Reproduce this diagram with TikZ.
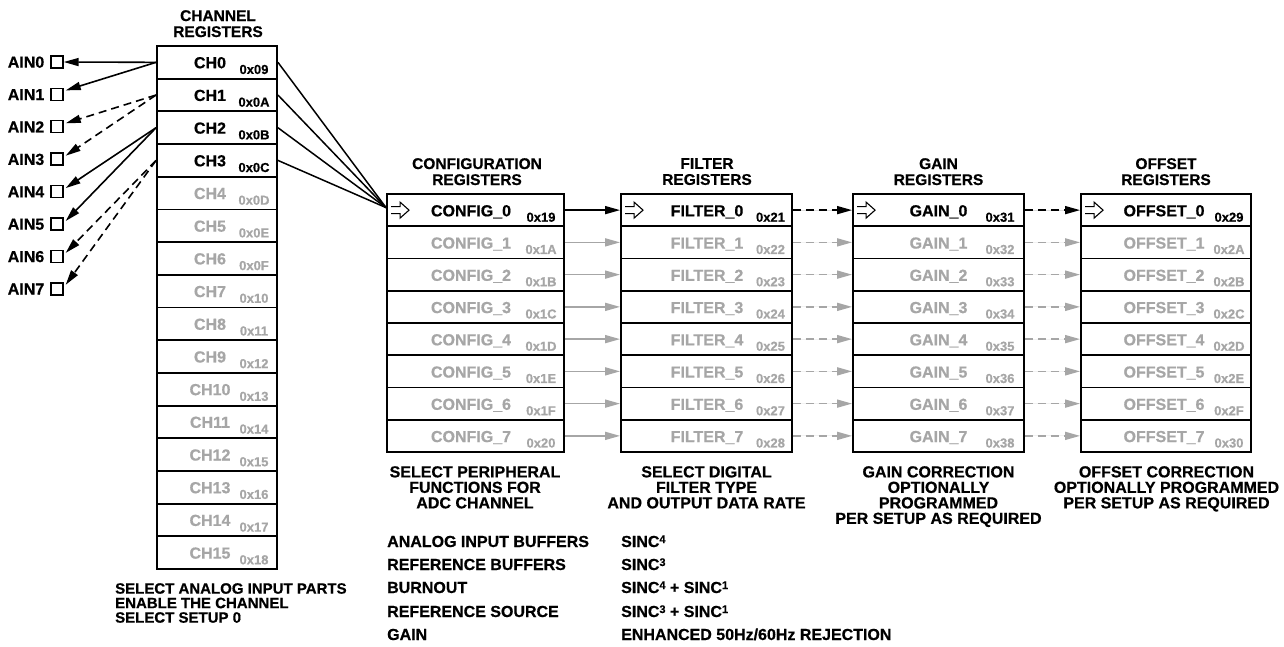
\documentclass[tikz,border=0pt]{standalone}
\usepackage{fontspec}
\setmainfont{Liberation Sans}[BoldFeatures={FakeBold=0.6}]
\usetikzlibrary{arrows.meta,calc}
\definecolor{rg}{RGB}{166,166,166}
\newcommand{\supx}[1]{\raisebox{4pt}{\fontsize{11}{11}\selectfont #1}}
\tikzset{
  rowbox/.style={draw=black, line width=1.9pt, inner sep=0pt},
  nm/.style={anchor=base, inner sep=0pt, font=\bfseries\fontsize{16}{16}\selectfont},
  hx/.style={anchor=base, inner sep=0pt, font=\bfseries\fontsize{13}{13}\selectfont},
  hdr/.style={anchor=north, inner sep=0pt, align=center, font=\bfseries\fontsize{15.5}{16}\selectfont},
  capt/.style={anchor=north, inner sep=0pt, align=center, font=\bfseries\fontsize{16}{15.5}\selectfont},
  lst/.style={anchor=base west, inner sep=0pt, font=\bfseries\fontsize{16}{16}\selectfont},
  arrtip/.style={-{Triangle[length=15pt,width=8pt]}},
  conn/.style={arrtip, line width=1.6pt},
  dsh/.style={dash pattern=on 8pt off 5pt},
  ainbox/.style={draw, line width=1.4pt, minimum size=12pt, inner sep=0pt},
  harrow/.pic={\draw[line width=1.1pt] (0,-3.5) -- (9,-3.5) -- (9,-8) -- (18,0) -- (9,8) -- (9,3.5) -- (0,3.5);}
}
\begin{document}
\begin{tikzpicture}[x=1pt,y=-1pt]
\fill[white] (0,0) rectangle (1284,647);
\useasboundingbox (0,0) rectangle (1284,647);

% headings
\node[hdr] (hch) at (218,10) {CHANNEL\\REGISTERS};
\node[hdr] (hcfg) at (477,158) {CONFIGURATION\\REGISTERS};
\node[hdr] (hfil) at (707,158) {FILTER\\REGISTERS};
\node[hdr] (hgain) at (938.5,158) {GAIN\\REGISTERS};
\node[hdr] (hoff) at (1166,158) {OFFSET\\REGISTERS};

% channel registers
\foreach \i/\h in {0/09,1/0A,2/0B,3/0C,4/0D,5/0E,6/0F,7/10,8/11,9/12,10/13,11/14,12/15,13/16,14/17,15/18}{
  \pgfmathsetmacro\c{46+(\i+0.5)*32.69}
  \ifnum\i<4 \def\col{black}\else\def\col{rg}\fi
  \node[rowbox, minimum width=120pt, minimum height=32.69pt] (ch\i) at (217,\c) {};
  \node[nm, text=\col] (chn\i) at (210,{\c+5.9}) {CH\i};
  \node[hx, text=\col] (chx\i) at (254,{\c+11.6}) {0x\h};
}

% AIN pins
\foreach \i in {0,...,7}{
  \pgfmathsetmacro\c{62+\i*32.4}
  \node[ainbox] (ain\i) at (57,\c) {};
  \node[nm] (ainl\i) at (26,{\c+5.7}) {AIN\i};
}
\draw[conn] (ch0.west) -- (ain0.east);
\draw[conn] (ch0.west) -- ($(ain1.east)+(2,-4)$);
\draw[conn,dsh] (ch1.west) -- ($(ain2.east)+(2,-3.5)$);
\draw[conn,dsh] (ch1.west) -- ($(ain3.east)+(2,-3.5)$);
\draw[conn] (ch2.west) -- ($(ain4.east)+(2,-3.5)$);
\draw[conn] (ch2.west) -- ($(ain5.east)+(2,-3)$);
\draw[conn,dsh] (ch3.west) -- ($(ain6.east)+(2,-3.5)$);
\draw[conn,dsh] (ch3.west) -- ($(ain7.east)+(2,-4)$);

% config / filter / gain / offset registers
\foreach \i/\a/\b/\g/\o in {0/19/21/31/29,1/1A/22/32/2A,2/1B/23/33/2B,3/1C/24/34/2C,4/1D/25/35/2D,5/1E/26/36/2E,6/1F/27/37/2F,7/20/28/38/30}{
  \pgfmathsetmacro\c{194+(\i+0.5)*32.25}
  \ifnum\i<1 \def\col{black}\else\def\col{rg}\fi
  \node[rowbox, minimum width=177pt, minimum height=32.25pt] (cfg\i) at (475.5,\c) {};
  \node[nm, text=\col] (cfgn\i) at (471,{\c+6.2}) {CONFIG\_\i};
  \node[hx, text=\col] (cfgx\i) at (541,{\c+11.6}) {0x\a};
  \node[rowbox, minimum width=171pt, minimum height=32.25pt] (fil\i) at (706.5,\c) {};
  \node[nm, text=\col] (filn\i) at (707,{\c+6.2}) {FILTER\_\i};
  \node[hx, text=\col] (filx\i) at (770.5,{\c+11.6}) {0x\b};
  \node[rowbox, minimum width=171pt, minimum height=32.25pt] (gain\i) at (938.5,\c) {};
  \node[nm, text=\col] (gainn\i) at (938.5,{\c+6.2}) {GAIN\_\i};
  \node[hx, text=\col] (gainx\i) at (1000,{\c+11.6}) {0x\g};
  \node[rowbox, minimum width=170pt, minimum height=32.25pt] (off\i) at (1166,\c) {};
  \node[nm, text=\col] (offn\i) at (1164,{\c+6.2}) {OFFSET\_\i};
  \node[hx, text=\col] (offx\i) at (1229,{\c+11.6}) {0x\o};
  \draw[conn, draw=\col, fill=\col] (cfg\i.east) -- (fil\i.west);
  \draw[conn, dsh, draw=\col, fill=\col] (fil\i.east) -- (gain\i.west);
  \draw[conn, dsh, draw=\col, fill=\col] (gain\i.east) -- (off\i.west);
}

% hollow arrows in first rows
\pic at ($(cfg0.west)+(5,0)$) {harrow};
\pic at ($(fil0.west)+(5,0)$) {harrow};
\pic at ($(gain0.west)+(5,0)$) {harrow};
\pic at ($(off0.west)+(5,0)$) {harrow};

% fan-in from channels to CONFIG_0
\coordinate (fanin) at ($(cfg0.west)+(0,-2.5)$);
\foreach \i in {0,...,3}{
  \draw[line width=1.5pt] (ch\i.east) -- (fanin);
}

% captions
\node[anchor=north west, inner sep=0pt, align=left, font=\bfseries\fontsize{15}{14.5}\selectfont] (chcap) at (115,583) {SELECT ANALOG INPUT PARTS\\ENABLE THE CHANNEL\\SELECT SETUP 0};
\node[capt] (cfgcap) at (475,466) {SELECT PERIPHERAL\\FUNCTIONS FOR\\ADC CHANNEL};
\node[capt] (filcap) at (706.5,466) {SELECT DIGITAL\\FILTER TYPE\\AND OUTPUT DATA RATE};
\node[capt] (gaincap) at (938.5,466) {GAIN CORRECTION\\OPTIONALLY\\PROGRAMMED\\PER SETUP AS REQUIRED};
\node[capt] (offcap) at (1166.5,466) {OFFSET CORRECTION\\OPTIONALLY PROGRAMMED\\PER SETUP AS REQUIRED};

% lists
\node[lst] (l1) at (387,547) {ANALOG INPUT BUFFERS};
\node[lst] (l2) at (387,570) {REFERENCE BUFFERS};
\node[lst] (l3) at (387,593) {BURNOUT};
\node[lst] (l4) at (387,617) {REFERENCE SOURCE};
\node[lst] (l5) at (387,640) {GAIN};
\node[lst] (r1) at (621,547) {SINC\supx{4}};
\node[lst] (r2) at (621,570) {SINC\supx{3}};
\node[lst] (r3) at (621,593) {SINC\supx{4} + SINC\supx{1}};
\node[lst] (r4) at (621,617) {SINC\supx{3} + SINC\supx{1}};
\node[lst] (r5) at (621,640) {ENHANCED 50Hz/60Hz REJECTION};
\end{tikzpicture}
\end{document}
